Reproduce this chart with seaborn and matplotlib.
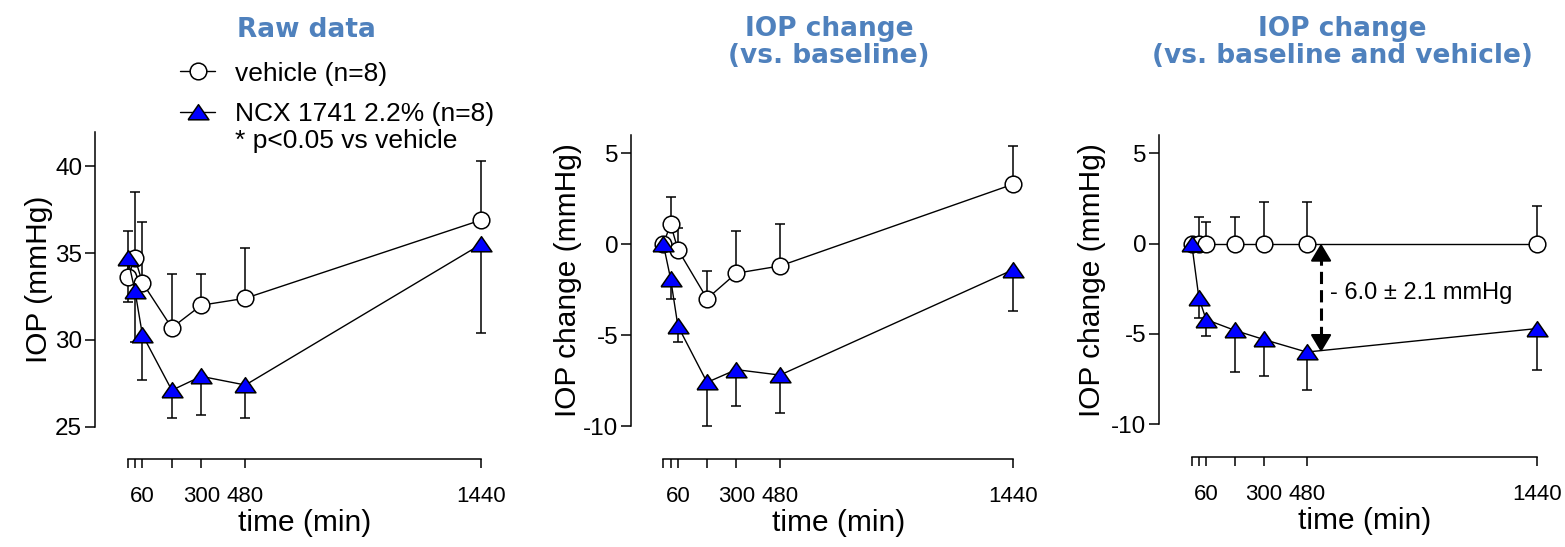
import numpy as np
import pandas as pd
import seaborn as sns
import matplotlib
matplotlib.use("Agg")
import matplotlib.pyplot as plt

# -----------------------------
# Data
# -----------------------------
times = [0, 30, 60, 180, 300, 480, 1440]
tick_labels = ['', '', '60', '', '300', '480', '1440']

# raw IOP (mmHg); vehicle bars go up, NCX bars go down
raw_vehicle = [33.6, 34.7, 33.3, 30.7, 32.0, 32.4, 36.9]
raw_vehicle_sem = [2.7, 3.8, 3.5, 3.1, 1.8, 2.9, 3.4]
raw_ncx = [34.7, 32.8, 30.3, 27.1, 27.9, 27.4, 35.5]
raw_ncx_sem = [2.5, 2.9, 2.6, 1.6, 2.2, 1.9, 5.1]

# change vs baseline
chg_vehicle = [0.0, 1.1, -0.3, -3.0, -1.6, -1.2, 3.3]
chg_vehicle_sem = [0.0, 1.5, 1.2, 1.5, 2.3, 2.3, 2.1]
chg_ncx = [0.0, -1.9, -4.5, -7.6, -6.9, -7.2, -1.4]
chg_ncx_sem = [0.0, 1.1, 0.9, 2.4, 2.0, 2.1, 2.3]

# change vs baseline and vehicle
rel_vehicle = [0.0, 0.0, 0.0, 0.0, 0.0, 0.0, 0.0]
rel_vehicle_sem = [0.0, 1.5, 1.2, 1.5, 2.3, 2.3, 2.1]
rel_ncx = [0.0, -3.0, -4.2, -4.8, -5.3, -6.0, -4.7]
rel_ncx_sem = [0.0, 1.1, 0.9, 2.3, 2.0, 2.1, 2.3]

titles = ["Raw data", "IOP change\n(vs. baseline)", "IOP change\n(vs. baseline and vehicle)"]
ylabels = ["IOP (mmHg)", "IOP change (mmHg)", "IOP change (mmHg)"]
legend_labels = ["vehicle (n=8)", "NCX 1741 2.2% (n=8)"]
note_text = "* p<0.05 vs vehicle"
diff_text = "- 6.0 \u00b1 2.1 mmHg"
arrow_x, arrow_top, arrow_bottom = 540, 0.0, -6.0

# -----------------------------
# Styling
# -----------------------------
sns.set_style("ticks")
plt.rcParams['font.family'] = ['Liberation Sans', 'DejaVu Sans']
plt.rcParams['axes.unicode_minus'] = False
for key in ('text.color', 'axes.labelcolor', 'xtick.color', 'ytick.color', 'axes.edgecolor'):
    plt.rcParams[key] = 'black'
title_color = "#4F81BD"
tri = [(-1, -0.7), (1, -0.7), (0, 0.75), (-1, -0.7)]  # wide triangle marker

W, H = 1565, 547
fig = plt.figure(figsize=(W / 100, H / 100), dpi=100)

# pixel boxes (left, top, right, bottom) and x offset in minutes
panels = [
    dict(box=(95, 131.7, 513.4, 459.3), xoff=133.4, ylim=(23.12, 42), ybounds=(25, 42),
         yticks=[25, 30, 35, 40], labelpad=1.5,
         veh=raw_vehicle, veh_err=raw_vehicle_sem, ncx=raw_ncx, ncx_err=raw_ncx_sem),
    dict(box=(631, 135, 1045.7, 459.3), xoff=132.9, ylim=(-11.83, 6), ybounds=(-10, 6),
         yticks=[-10, -5, 0, 5], labelpad=0.5,
         veh=chg_vehicle, veh_err=chg_vehicle_sem, ncx=chg_ncx, ncx_err=chg_ncx_sem),
    dict(box=(1159, 135.2, 1569.4, 456.7), xoff=136.5, ylim=(-11.79, 6), ybounds=(-10, 6),
         yticks=[-10, -5, 0, 5], labelpad=3.5,
         veh=rel_vehicle, veh_err=rel_vehicle_sem, ncx=rel_ncx, ncx_err=rel_ncx_sem),
]
title_x = [306, 829, 1342]
title_base = [36.7, 63.3, 63.3]  # baseline of the last title line, px from top

handles = []
for i, p in enumerate(panels):
    l, t, r, b = p['box']
    ax = fig.add_axes([l / W, 1 - b / H, (r - l) / W, (b - t) / H])
    zeros = np.zeros(len(times))

    # error bars (one-sided)
    ax.errorbar(times, p['veh'], yerr=[zeros, p['veh_err']], fmt='none', ecolor='black',
                elinewidth=1.1, capsize=3.6, capthick=1.1, zorder=2)
    ax.errorbar(times, p['ncx'], yerr=[p['ncx_err'], zeros], fmt='none', ecolor='black',
                elinewidth=1.1, capsize=3.6, capthick=1.1, zorder=2)

    n0 = len(ax.lines)
    sns.lineplot(x=times, y=p['veh'], ax=ax, color='black', lw=1.0, marker='o',
                 markersize=12, markerfacecolor='white', markeredgecolor='black',
                 markeredgewidth=1.1, errorbar=None, legend=False, zorder=3)
    veh_line = ax.lines[n0]
    n0 = len(ax.lines)
    sns.lineplot(x=times, y=p['ncx'], ax=ax, color='black', lw=1.0, marker=tri,
                 markersize=15, markerfacecolor='blue', markeredgecolor='black',
                 markeredgewidth=1.1, errorbar=None, legend=False, zorder=4)
    ncx_line = ax.lines[n0]
    if i == 0:
        handles = [veh_line, ncx_line]

    # axes, spines, ticks
    ax.set_xlim(-p['xoff'], 1440 + p['xoff'])
    ax.set_ylim(*p['ylim'])
    sns.despine(ax=ax)
    ax.spines['left'].set_bounds(*p['ybounds'])
    ax.spines['bottom'].set_bounds(0, 1440)
    for s in ('left', 'bottom'):
        ax.spines[s].set_linewidth(1.1)
    ax.set_xticks(times)
    ax.set_xticklabels(tick_labels)
    ax.set_yticks(p['yticks'])
    ax.tick_params(axis='x', length=6.5, width=1.1, pad=13, labelsize=16)
    ax.tick_params(axis='y', length=7.2, width=1.1, pad=2, labelsize=17.5)
    ax.set_xlabel("time (min)", fontsize=21.5, labelpad=1.5)
    ax.set_ylabel(ylabels[i], fontsize=21.5, labelpad=p['labelpad'])
    y0, y1 = p['ylim']
    ax.yaxis.label.set_y((np.mean(p['ybounds']) - y0) / (y1 - y0))
    ax.patch.set_alpha(0)

    fig.text(title_x[i] / W, 1 - title_base[i] / H, titles[i], ha='center', va='baseline',
             fontsize=19, fontweight='bold', color=title_color, family='DejaVu Sans',
             linespacing=1.05)

    if i == 2:
        ax.plot([arrow_x, arrow_x], [arrow_top - 0.5, arrow_bottom + 0.5], color='black',
                lw=2.2, ls=(0, (4, 2)), zorder=5)
        for tip, start in ((arrow_top, arrow_top - 0.6), (arrow_bottom, arrow_bottom + 0.6)):
            ax.annotate('', xy=(arrow_x, tip), xytext=(arrow_x, start),
                        arrowprops=dict(arrowstyle='-|>,head_length=0.6,head_width=0.36',
                                        color='black', lw=1.5, shrinkA=0, shrinkB=0,
                                        mutation_scale=18), zorder=5)
        ax.text(577, -2.73, diff_text, ha='left', va='center', fontsize=17)

fig.legend(handles=handles, labels=legend_labels, loc='upper left',
           bbox_to_anchor=(180 / W, 1 - 61.5 / H), frameon=False, fontsize=19,
           handlelength=1.33, handletextpad=0.76, labelspacing=0.63,
           borderpad=0, borderaxespad=0)
fig.text(235 / W, 1 - 148.3 / H, note_text, ha='left', va='baseline', fontsize=19)

fig.savefig('out.png', dpi=100)
plt.close(fig)
